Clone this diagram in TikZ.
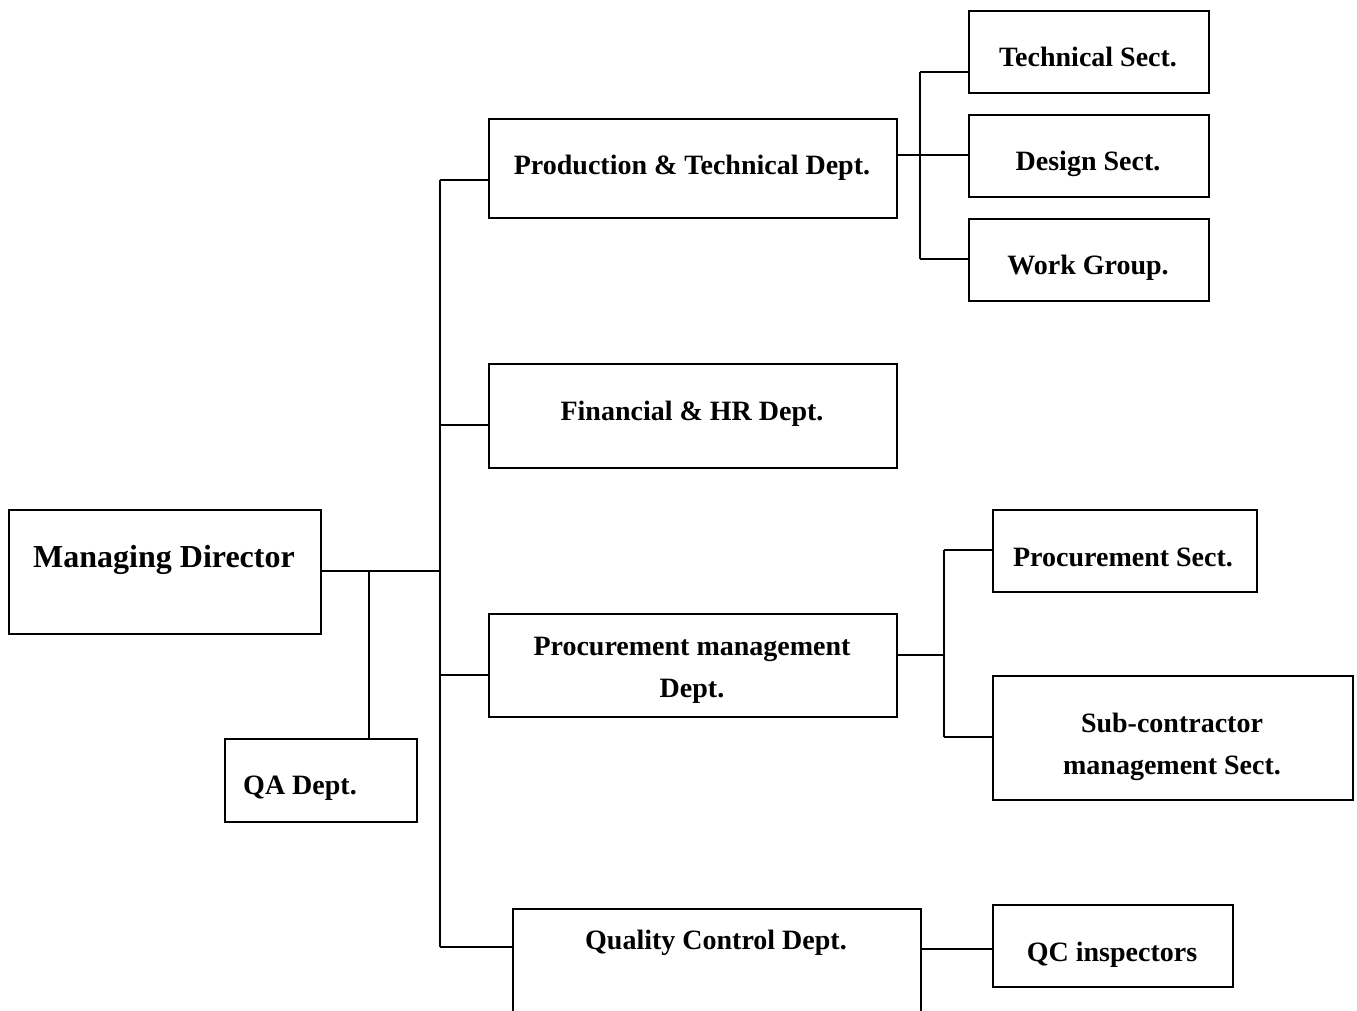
\documentclass[tikz,border=0pt]{standalone}
\usepackage{fontspec}
\setmainfont{Liberation Serif}
\begin{document}
\begin{tikzpicture}[x=1pt,y=-1pt,
  box/.style={draw,line width=1.8pt,rectangle,anchor=north west,inner sep=0pt},
  txt/.style={font=\fontsize{28}{42}\selectfont\bfseries,inner sep=0pt,align=center},
  con/.style={line width=1.8pt}]
\useasboundingbox (0,0) rectangle (1357,1010);
\clip (0,0) rectangle (1357,1010);
% boxes
\node[box,minimum width=312pt,minimum height=124pt] (md) at (8,509) {};
\node[box,minimum width=192pt,minimum height=83pt] (qa) at (224,738) {};
\node[box,minimum width=408pt,minimum height=99pt] (prod) at (488,118) {};
\node[box,minimum width=408pt,minimum height=104pt] (fin) at (488,363) {};
\node[box,minimum width=408pt,minimum height=103pt] (pm) at (488,613) {};
\node[box,minimum width=408pt,minimum height=140pt] (qc) at (512,908) {};
\node[box,minimum width=240pt,minimum height=82pt] (tech) at (968,10) {};
\node[box,minimum width=240pt,minimum height=82pt] (des) at (968,114) {};
\node[box,minimum width=240pt,minimum height=82pt] (work) at (968,218) {};
\node[box,minimum width=264pt,minimum height=82pt] (ps) at (992,509) {};
\node[box,minimum width=360pt,minimum height=124pt] (sub) at (992,675) {};
\node[box,minimum width=240pt,minimum height=82pt] (qci) at (992,904) {};
% texts
\node[txt,font=\fontsize{32}{36}\selectfont\bfseries] (tmd) at (164,560) {Managing Director};
\node[txt] (tqa) at (300,788) {QA Dept.};
\node[txt] (tprod) at (692,168) {Production \& Technical Dept.};
\node[txt] (tfin) at (692,414) {Financial \& HR Dept.};
\node[txt] (tpm) at (692,670) {Procurement management\\Dept.};
\node[txt] (tqc) at (716,943) {Quality Control Dept.};
\node[txt] (ttech) at (1088,57) {Technical Sect.};
\node[txt] (tdes) at (1088,164) {Design Sect.};
\node[txt] (twork) at (1088,268) {Work Group.};
\node[txt] (tps) at (1123,557) {Procurement Sect.};
\node[txt] (tsub) at (1172,747) {Sub-contractor\\management Sect.};
\node[txt] (tqci) at (1112,955) {QC inspectors};
% junctions
\coordinate (j1) at (440,571);
\coordinate (jqa) at (369,571);
\coordinate (tTop) at (440,180);
\coordinate (tBot) at (440,947);
\coordinate (p1) at (920,155);
\coordinate (m1) at (944,655);
% connectors
\draw[con] (md.east |- j1) -- (j1);
\draw[con] (jqa) -- (jqa |- qa.north);
\draw[con] (tTop) -- (tBot);
\draw[con] (tTop) -- (tTop -| prod.west);
\draw[con] (440,425) -- (440,425 -| fin.west);
\draw[con] (440,675) -- (440,675 -| pm.west);
\draw[con] (tBot) -- (tBot -| qc.west);
\draw[con] (prod.east |- p1) -- (p1 -| des.west);
\draw[con] (920,72) -- (920,259);
\draw[con] (920,72) -- (920,72 -| tech.west);
\draw[con] (920,259) -- (920,259 -| work.west);
\draw[con] (pm.east |- m1) -- (m1);
\draw[con] (944,550) -- (944,737);
\draw[con] (944,550) -- (944,550 -| ps.west);
\draw[con] (944,737) -- (944,737 -| sub.west);
\draw[line width=2.6pt] (qc.east |- 949,949) -- (949,949 -| qci.west);
\end{tikzpicture}
\end{document}
